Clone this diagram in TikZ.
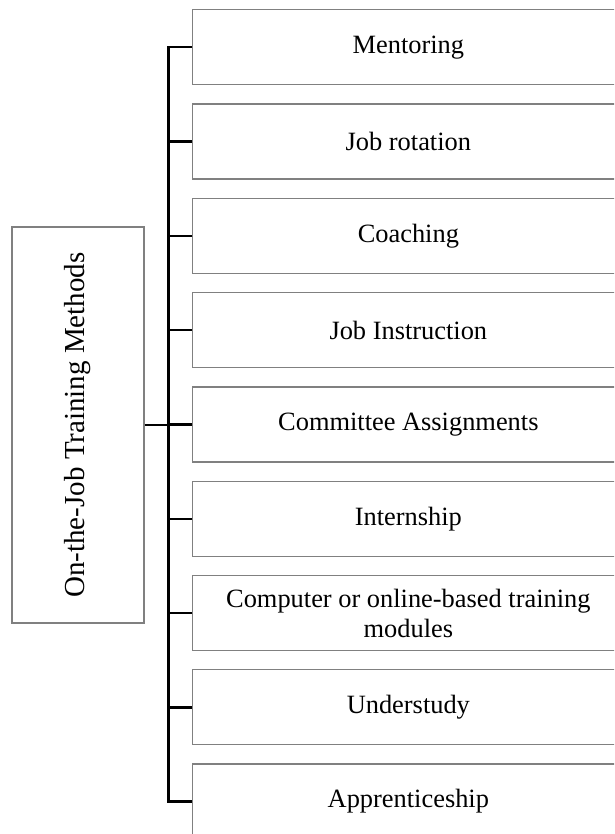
\documentclass[tikz,border=0pt]{standalone}
\usepackage{fontspec}
\setmainfont{Liberation Serif}
\begin{document}
\begin{tikzpicture}[x=1pt,y=-1pt,
  item/.style={draw={rgb,255:red,128;green,128;blue,128}, line width=1.3pt,
    minimum width=431.3pt, minimum height=75pt, inner sep=2pt,
    align=center, font=\fontsize{26.4}{30}\selectfont},
  rootbox/.style={draw={rgb,255:red,128;green,128;blue,128}, line width=1.3pt,
    minimum width=396pt, minimum height=132pt, inner sep=2pt, rotate=90,
    font=\fontsize{29}{33}\selectfont},
  conn/.style={draw=black, line width=2.4pt, line join=miter}]
\useasboundingbox (0,0) rectangle (614,834);
\clip (0,0) rectangle (614,834);

% category root, text running bottom to top
\node[rootbox] (root) at (78,425) {On-the-Job Training Methods};

% the nine methods
\node[item] (b1) at (408.35, 47.2) {Mentoring};
\node[item] (b2) at (408.35, 141.5) {Job rotation};
\node[item] (b3) at (408.35, 235.8) {Coaching};
\node[item] (b4) at (408.35, 330.1) {Job Instruction};
\node[item] (b5) at (408.35, 424.4) {Committee Assignments};
\node[item] (b6) at (408.35, 518.7) {Internship};
\node[item] (b7) at (408.35, 613.0) {Computer or online-based training\\modules};
\node[item] (b8) at (408.35, 707.3) {Understudy};
\node[item] (b9) at (408.35, 801.6) {Apprenticeship};

% bracket trunk
\coordinate (trunk) at (168.3,0);
\draw[conn] (b1.west) -- (b1.west -| trunk) -- (b9.west -| trunk) -- (b9.west);
\foreach \b in {b2,b3,b4,b5,b6,b7,b8}
  \draw[conn] (\b.west) -- (\b.west -| trunk);
\draw[conn] (root.south) -- (root.south -| trunk);
\end{tikzpicture}
\end{document}
